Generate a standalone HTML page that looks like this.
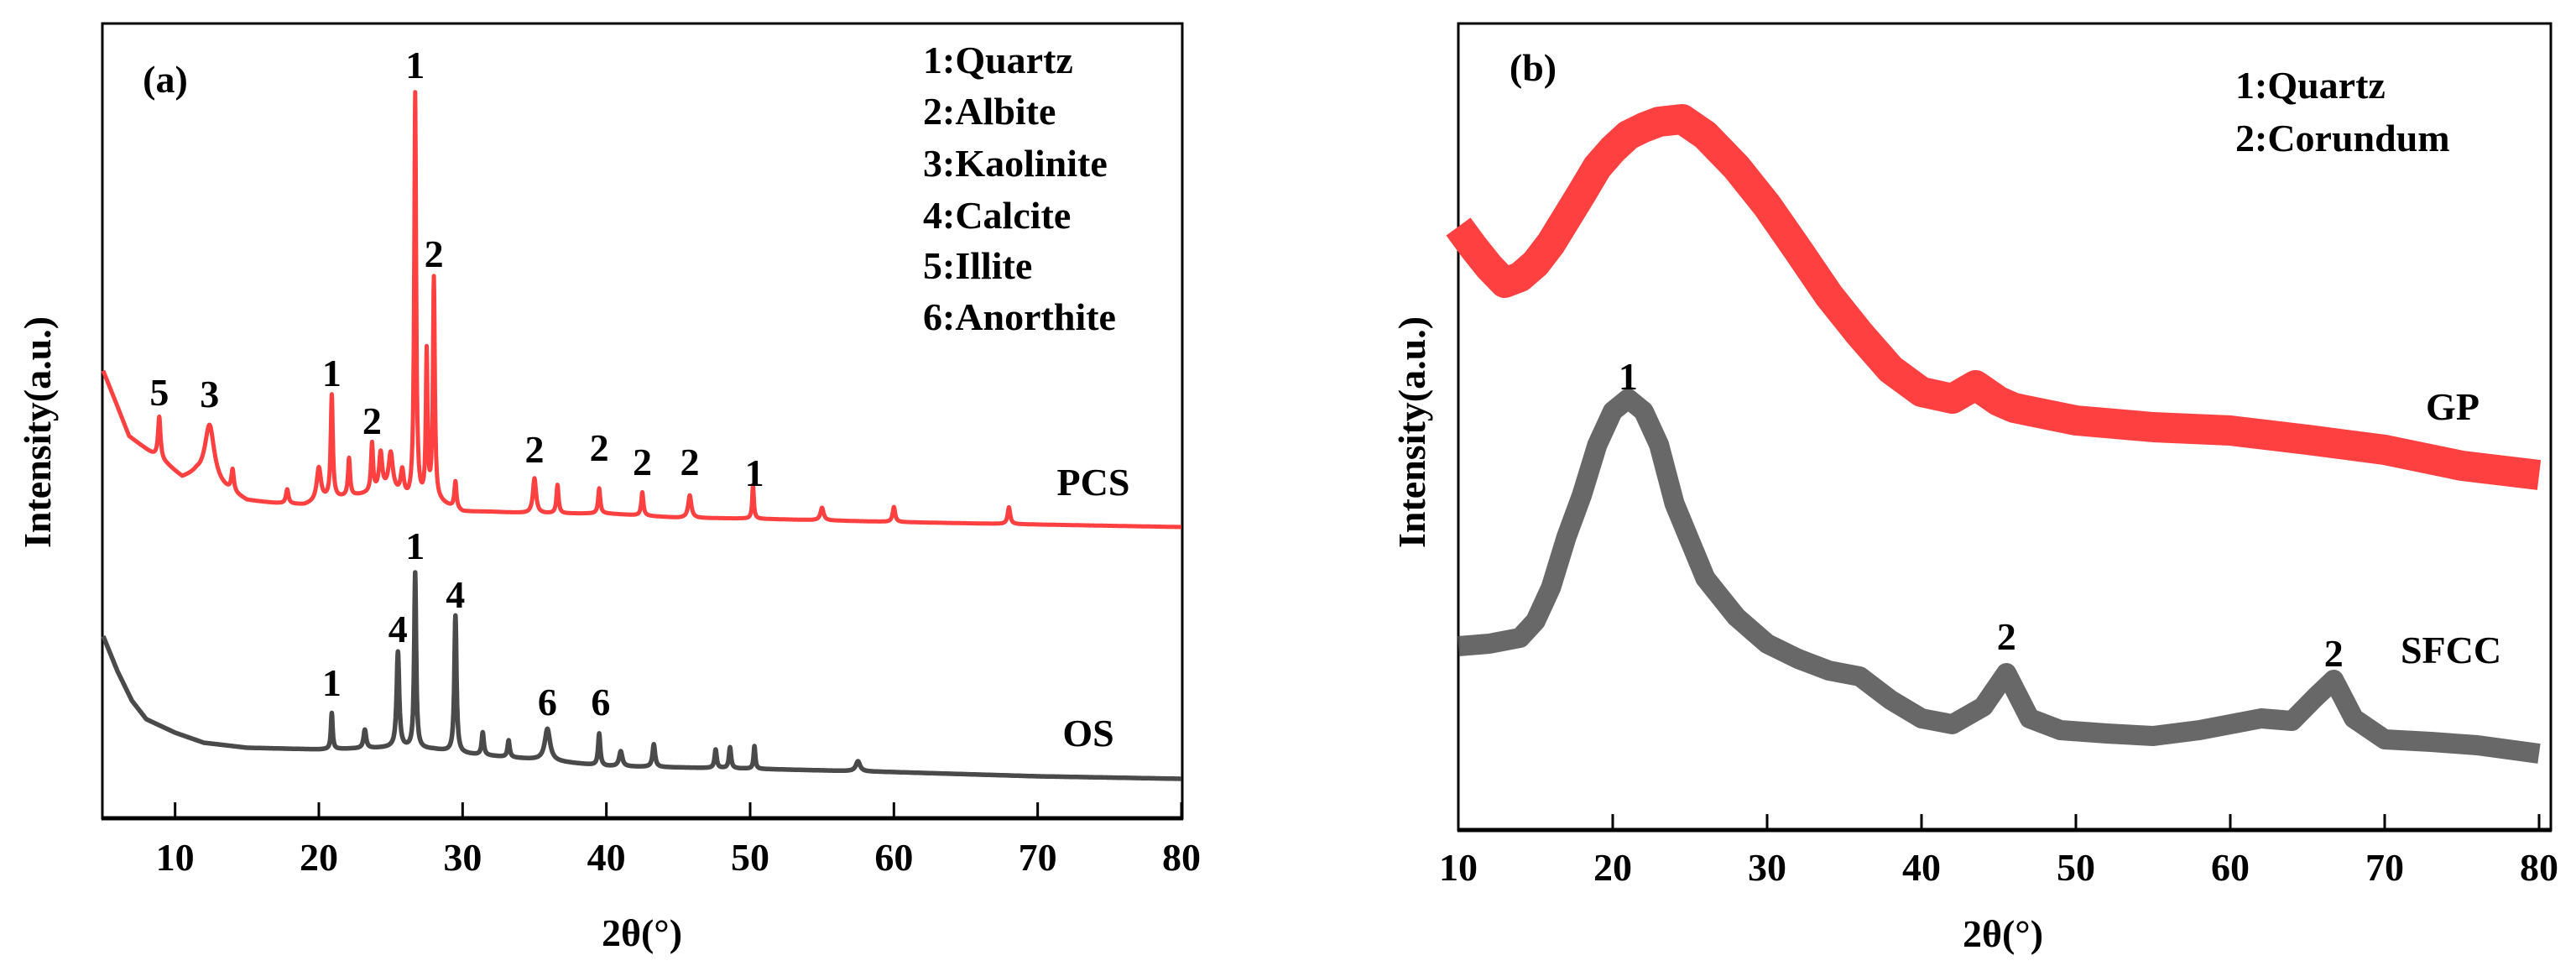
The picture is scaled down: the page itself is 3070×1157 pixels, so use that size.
<!DOCTYPE html>
<html><head><meta charset="utf-8"><style>
html,body{margin:0;padding:0;background:#fff;}
svg{display:block;}
text{font-family:"Liberation Serif",serif;font-weight:bold;fill:#000;}
</style></head><body>
<svg id="fig" width="3070" height="1157" viewBox="0 0 3070 1157" xmlns="http://www.w3.org/2000/svg">
  <g id="panelA">
    <rect x="122" y="28" width="1287" height="947" fill="none" stroke="#000" stroke-width="3"/>
    <line x1="121" y1="975" x2="1410" y2="975" stroke="#000" stroke-width="5"/>
    <g id="ticksA"></g>
    <g id="curvesA"></g>
    <text x="197" y="110" font-size="46" text-anchor="middle">(a)</text>
    <g font-size="46">
      <text x="1100" y="87">1:Quartz</text>
      <text x="1100" y="148">2:Albite</text>
      <text x="1100" y="210">3:Kaolinite</text>
      <text x="1100" y="272">4:Calcite</text>
      <text x="1100" y="332">5:Illite</text>
      <text x="1100" y="393">6:Anorthite</text>
    </g>
    <text x="1303" y="590" font-size="46" text-anchor="middle">PCS</text>
    <text x="1297" y="889" font-size="46" text-anchor="middle">OS</text>
    <text transform="translate(60,515) rotate(-90)" font-size="46" text-anchor="middle">Intensity(a.u.)</text>
    <text x="765" y="1127" font-size="46" text-anchor="middle">2θ(°)</text>
  </g>
  <g id="panelB">
    <rect x="1738" y="28" width="1302" height="961" fill="none" stroke="#000" stroke-width="3"/>
    <line x1="1737" y1="989" x2="3041" y2="989" stroke="#000" stroke-width="5"/>
    <g id="ticksB"></g>
    <g id="curvesB"></g>
    <text x="1827" y="96" font-size="46" text-anchor="middle">(b)</text>
    <g font-size="46">
      <text x="2664" y="117">1:Quartz</text>
      <text x="2664" y="180">2:Corundum</text>
    </g>
    <text x="2923" y="500" font-size="46" text-anchor="middle">GP</text>
    <text x="2921" y="790" font-size="46" text-anchor="middle">SFCC</text>
    <text transform="translate(1698,515) rotate(-90)" font-size="46" text-anchor="middle">Intensity(a.u.)</text>
    <text x="2387" y="1128" font-size="46" text-anchor="middle">2θ(°)</text>
  </g>
</svg>
<script>
// ---------- Panel (a) data ----------
const pcsBaseX = [5,6,6.8,8.4,9.5,10.5,11.5,13,15,17,19,20.5,23,25,26.2,28.5,30,32,35,40,45,50,55,60,70,80];
const pcsBaseY = [533,490,455,434,420,405,409,395,378,375,373,379,385,390,377,375,365,365,363,363,358,357,355,353,350,347];
const pcsPeakPos = [8.9,12.4,14.0,17.8,20.0,20.9,22.1,23.7,24.3,25.0,25.8,26.7,27.5,28.0,29.5,35.0,36.6,39.5,42.5,45.8,50.2,55,60,68];
const pcsPeakH   = [50,68,26,17,40,123,45,58,45,43,30,485,175,265,32,42,34,30,28,27,40,15,18,20];
const pcsPeakW   = [0.12,0.45,0.12,0.12,0.2,0.1,0.1,0.1,0.15,0.2,0.15,0.09,0.08,0.09,0.1,0.15,0.1,0.1,0.1,0.15,0.08,0.15,0.12,0.12];
const osBaseX = [5,6,7,8,10,12,15,20,25,28,30,35,40,50,60,70,80];
const osBaseY = [217,175,140,118,102,90,84,82,84,82,77,70,62,59,55,50,47];
const osPeakPos = [20.9,23.2,25.5,26.7,29.5,31.4,33.2,35.9,39.5,41.0,43.3,47.6,48.6,50.3,57.5];
const osPeakH   = [43,22,114,209,163,27,20,38,38,18,27,22,25,27,12];
const osPeakW   = [0.08,0.12,0.12,0.09,0.1,0.1,0.1,0.25,0.1,0.15,0.12,0.1,0.1,0.08,0.2];
const labelsAText = ["5","3","1","2","1","2","2","2","2","2","1","1","4","1","4","6","6"];
const labelsAPos  = [8.9,12.4,20.9,23.7,26.7,28.0,35.0,39.5,42.5,45.8,50.3,20.9,25.5,26.7,29.5,35.9,39.6];
const labelsAVal  = [508,506,531,474,898,673,440,442,425,425,412,162,226,325,267,139,139];
const xTicksA = [10,20,30,40,50,60,70,80];

// ---------- Panel (b) data ----------
const gpX = [10,11,12,13,14,15,16,17,18,19,20,21,22,23,24.5,26,28,30,32,34,36,38,40,42,43.5,45,46,50,55,60,65,70,75,80];
const gpY = [719,694,671,652,659,675,699,729,759,790,811,828,837,844,847,828,790,744,691,637,591,549,522,514,530,511,503,488,480,476,465,453,434,423];
const sfccX = [10,12,14,15,16,17,18,19,20,21,22,23,24,26,28,30,32,34,36,38,40,42,44,45.5,47,49,52,55,58,60,62,64,65.5,66.7,68,70,73,76,80];
const sfccY = [219,222,229,249,289,349,399,459,499,514,499,459,389,300,254,222,204,190,183,155,133,126,147,187,133,119,115,112,119,126,133,130,158,179,133,108,105,101,91];
const labelsBText = ["1","2","2"];
const labelsBPos  = [21,45.5,66.7];
const labelsBVal  = [541,231,211];
const xTicksB = [10,20,30,40,50,60,70,80];

const NS = "http://www.w3.org/2000/svg";
function xA(v){ return 123 + (v-5)*(1408-123)/75; }
function yA(v){ return 975 - v; }
function xB(v){ return 1738 + (v-10)*(3026-1738)/70; }
function yB(v){ return 989 - v; }
function interp(xs, ys, x){
  if (x<=xs[0]) return ys[0];
  for (let i=1;i<xs.length;i++){ if (x<=xs[i]){ const t=(x-xs[i-1])/(xs[i]-xs[i-1]); return ys[i-1]+t*(ys[i]-ys[i-1]); } }
  return ys[ys.length-1];
}
function pattern(bx, by, pp, ph, pw, x){
  let v = interp(bx, by, x);
  for (let i=0;i<pp.length;i++){ const d=(x-pp[i])/pw[i]; v += ph[i]/(1+d*d*1.3); }
  return v;
}
function addPath(g, d, color, width, name, op){
  const p = document.createElementNS(NS,"path");
  p.setAttribute("d", d);
  p.setAttribute("fill","none");
  p.setAttribute("stroke",color);
  p.setAttribute("stroke-width",width);
  p.setAttribute("stroke-linejoin","round");
  if (op) p.setAttribute("opacity", op);
  
  
  g.appendChild(p);
}
function addText(g, x, y, s, name){
  const t = document.createElementNS(NS,"text");
  t.setAttribute("x", x); t.setAttribute("y", y);
  t.setAttribute("font-size","46"); t.setAttribute("text-anchor","middle");
  t.textContent = s;
  
  
  g.appendChild(t);
}
function addTick(g, x, y0, name){
  const l = document.createElementNS(NS,"line");
  l.setAttribute("x1",x); l.setAttribute("x2",x);
  l.setAttribute("y1",y0); l.setAttribute("y2",y0-17);
  l.setAttribute("stroke","#000"); l.setAttribute("stroke-width","3");
  
  
  g.appendChild(l);
}

// Panel A
const gA = document.getElementById("curvesA");
let dP = "", dO = "";
for (let x=5; x<=80.0001; x+=0.02){
  const yp = yA(pattern(pcsBaseX,pcsBaseY,pcsPeakPos,pcsPeakH,pcsPeakW,x));
  const yo = yA(pattern(osBaseX,osBaseY,osPeakPos,osPeakH,osPeakW,x));
  dP += (dP?"L":"M") + xA(x).toFixed(1) + " " + yp.toFixed(1);
  dO += (dO?"L":"M") + xA(x).toFixed(1) + " " + yo.toFixed(1);
}
addPath(gA, dO, "#4a4a4a", 5.5, "os-curve");
addPath(gA, dP, "#ff4040", 5, "pcs-curve");
for (let i=0;i<labelsAText.length;i++){
  addText(gA, xA(labelsAPos[i]), yA(labelsAVal[i])+16, labelsAText[i], "peak-label-a");
}
const tA = document.getElementById("ticksA");
xTicksA.forEach(v=>{
  addTick(tA, xA(v), 973, "x-tick-a");
  addText(tA, xA(v), 1037, String(v), "x-tick-label-a");
});

// Panel B
const gB = document.getElementById("curvesB");
let dG = "", dS = "";
gpX.forEach((v,i)=>{ dG += (i?"L":"M") + xB(v).toFixed(1) + " " + yB(gpY[i]).toFixed(1); });
sfccX.forEach((v,i)=>{ dS += (i?"L":"M") + xB(v).toFixed(1) + " " + yB(sfccY[i]).toFixed(1); });
addPath(gB, dS, "#4d4d4d", 24, "sfcc-curve", 0.85);
addPath(gB, dG, "#ff4040", 36, "gp-curve");
for (let i=0;i<labelsBText.length;i++){
  addText(gB, xB(labelsBPos[i]), yB(labelsBVal[i])+16, labelsBText[i], "peak-label-b");
}
const tB = document.getElementById("ticksB");
xTicksB.forEach(v=>{
  if (v>10) addTick(tB, xB(v), 987, "x-tick-b");
  addText(tB, xB(v), 1049, String(v), "x-tick-label-b");
});
</script>
</body></html>
